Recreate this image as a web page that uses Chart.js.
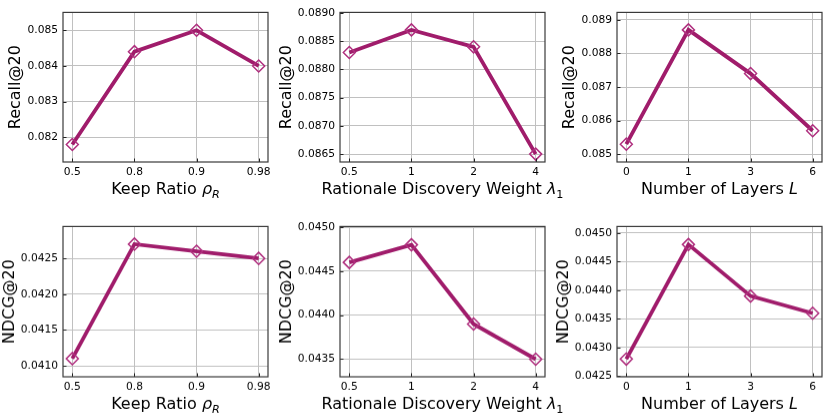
<!DOCTYPE html>
<html>
<head>
<meta charset="utf-8">
<script src="https://cdn.jsdelivr.net/npm/chart.js@4.4.1/dist/chart.umd.min.js"></script>
<style>
  html, body { margin: 0; padding: 0; background: #fff; width: 830px; height: 419px; overflow: hidden; }
  canvas { position: absolute; }
</style>
</head>
<body>
<script>
// x categories
const rhoLabels = ['0.5', '0.8', '0.9', '0.98'];
const lambdaLabels = ['0.5', '1', '2', '4'];
const layerLabels = ['0', '1', '3', '6'];

// series values
const recallRho = [0.0818, 0.0844, 0.0850, 0.0840];
const recallLambda = [0.0883, 0.0887, 0.0884, 0.0865];
const recallLayers = [0.0853, 0.0887, 0.0874, 0.0857];
const ndcgRho = [0.0411, 0.0427, 0.0426, 0.0425];
const ndcgLambda = [0.0446, 0.0448, 0.0439, 0.0435];
const ndcgLayers = [0.0428, 0.0448, 0.0439, 0.0436];

// y tick labels
const recallRhoTicks = [0.082, 0.083, 0.084, 0.085];
const recallLambdaTicks = [0.0865, 0.0870, 0.0875, 0.0880, 0.0885, 0.0890];
const recallLayersTicks = [0.085, 0.086, 0.087, 0.088, 0.089];
const ndcgRhoTicks = [0.0410, 0.0415, 0.0420, 0.0425];
const ndcgLambdaTicks = [0.0435, 0.0440, 0.0445, 0.0450];
const ndcgLayersTicks = [0.0425, 0.0430, 0.0435, 0.0440, 0.0445, 0.0450];

// y axis limits
const recallRhoRange = [0.08131, 0.0855];
const recallLambdaRange = [0.08636, 0.08901];
const recallLayersRange = [0.08477, 0.08922];
const ndcgRhoRange = [0.040846, 0.042946];
const ndcgLambdaRange = [0.04330, 0.045008];
const ndcgLayersRange = [0.04249, 0.045115];

const rhoTitle = [['Keep Ratio ', ''], ['ρ', 'i'], ['R', 'is']];
const lambdaTitle = [['Rationale Discovery Weight ', ''], ['λ', 'i'], ['1', 's']];
const layerTitle = [['Number of Layers ', ''], ['L', 'i']];

const panels = [
  { left: 62.7, top: 8.5, cats: rhoLabels, vals: recallRho, ticks: recallRhoTicks, range: recallRhoRange, dec: 3, yTitle: 'Recall@20', xTitle: rhoTitle },
  { left: 340, top: 8.5, cats: lambdaLabels, vals: recallLambda, ticks: recallLambdaTicks, range: recallLambdaRange, dec: 4, yTitle: 'Recall@20', xTitle: lambdaTitle },
  { left: 616.7, top: 8.5, cats: layerLabels, vals: recallLayers, ticks: recallLayersTicks, range: recallLayersRange, dec: 3, yTitle: 'Recall@20', xTitle: layerTitle },
  { left: 62.7, top: 223.4, cats: rhoLabels, vals: ndcgRho, ticks: ndcgRhoTicks, range: ndcgRhoRange, dec: 4, yTitle: 'NDCG@20', xTitle: rhoTitle },
  { left: 340, top: 223.4, cats: lambdaLabels, vals: ndcgLambda, ticks: ndcgLambdaTicks, range: ndcgLambdaRange, dec: 4, yTitle: 'NDCG@20', xTitle: lambdaTitle },
  { left: 616.7, top: 223.4, cats: layerLabels, vals: ndcgLayers, ticks: ndcgLayersTicks, range: ndcgLayersRange, dec: 4, yTitle: 'NDCG@20', xTitle: layerTitle }
];

const PAD_L = 62, PAD_T = 8, PAD_R = 30, PAD_B = 50;
const AREA_W = 205, AREA_H = 153.3;
const FONT = '"DejaVu Sans", sans-serif';
const LINE = '#a01c6b';
const MARK = '#b0307f';

// box, inward ticks and axis titles in the matplotlib manner
const frame = {
  id: 'frame',
  afterDraw(chart, args, opts) {
    const { ctx, chartArea: a, scales } = chart;
    ctx.save();
    ctx.strokeStyle = '#222';
    ctx.lineWidth = 1;
    ctx.beginPath();
    scales.x.ticks.forEach(t => {
      const x = Math.round(scales.x.getPixelForValue(t.value)) + 0.5;
      ctx.moveTo(x, a.bottom); ctx.lineTo(x, a.bottom - 3.5);
    });
    scales.y.ticks.forEach(t => {
      const y = Math.round(scales.y.getPixelForValue(t.value)) + 0.5;
      ctx.moveTo(a.left, y); ctx.lineTo(a.left + 3.5, y);
    });
    ctx.stroke();

    ctx.strokeStyle = '#3a3a3a';
    ctx.lineWidth = 1.2;
    ctx.strokeRect(a.left, a.top, a.right - a.left, a.bottom - a.top);

    // y title
    ctx.font = '10.67px ' + FONT;
    let tw = 0;
    scales.y.ticks.forEach(t => { tw = Math.max(tw, ctx.measureText(t.label).width); });
    ctx.fillStyle = '#000';
    ctx.font = '16px ' + FONT;
    ctx.textAlign = 'center';
    ctx.textBaseline = 'alphabetic';
    ctx.translate(a.left - 5.4 - tw - 6.8, (a.top + a.bottom) / 2);
    ctx.rotate(-Math.PI / 2);
    ctx.fillText(opts.yTitle, 0, 0);
    ctx.setTransform(1, 0, 0, 1, 0, 0);
    ctx.restore();

    // x title with math parts
    ctx.save();
    ctx.fillStyle = '#000';
    ctx.textAlign = 'left';
    ctx.textBaseline = 'alphabetic';
    const fontOf = s => (s.includes('i') ? 'oblique ' : '') + (s.includes('s') ? '11.2px ' : '16px ') + FONT;
    let total = 0;
    opts.xTitle.forEach(([t, s]) => { ctx.font = fontOf(s); total += ctx.measureText(t).width; });
    let x = (a.left + a.right) / 2 - total / 2;
    const base = a.bottom + 32;
    opts.xTitle.forEach(([t, s]) => {
      ctx.font = fontOf(s);
      ctx.fillText(t, x, base + (s.includes('s') ? 3.5 : 0));
      x += ctx.measureText(t).width;
    });
    ctx.restore();
  }
};

panels.forEach(p => {
  const c = document.createElement('canvas');
  const w = AREA_W + PAD_L + PAD_R;
  const h = AREA_H + PAD_T + PAD_B;
  c.width = w; c.height = h;
  c.style.width = w + 'px'; c.style.height = h + 'px';
  c.style.left = (p.left - PAD_L) + 'px';
  c.style.top = (p.top - PAD_T) + 'px';
  document.body.appendChild(c);

  new Chart(c, {
    type: 'line',
    data: {
      datasets: [{
        data: p.vals.map((v, i) => ({ x: i, y: v })),
        borderColor: LINE,
        borderWidth: 3.8,
        pointStyle: 'rectRot',
        pointRadius: 6,
        pointBorderWidth: 1.5,
        pointBorderColor: MARK,
        pointBackgroundColor: 'rgba(255,255,255,0)',
        tension: 0
      }]
    },
    options: {
      responsive: false,
      animation: false,
      events: [],
      layout: { padding: { top: PAD_T, right: PAD_R, left: 0, bottom: 0 } },
      plugins: {
        legend: { display: false },
        tooltip: { enabled: false },
        frame: { yTitle: p.yTitle, xTitle: p.xTitle }
      },
      scales: {
        x: {
          type: 'linear',
          min: -0.15,
          max: 3.15,
          afterFit: s => { s.height = PAD_B; },
          afterBuildTicks: s => { s.ticks = p.cats.map((_, i) => ({ value: i })); },
          grid: { color: '#c0c0c0', lineWidth: 1, drawTicks: false },
          border: { display: false },
          ticks: {
            padding: 4,
            color: '#000',
            font: { family: FONT, size: 10.67 },
            maxRotation: 0,
            callback: v => p.cats[v]
          }
        },
        y: {
          min: p.range[0],
          max: p.range[1],
          afterFit: s => { s.width = PAD_L; },
          afterBuildTicks: s => { s.ticks = p.ticks.map(v => ({ value: v })); },
          grid: { color: '#c0c0c0', lineWidth: 1, drawTicks: false },
          border: { display: false },
          ticks: {
            padding: 5,
            color: '#000',
            font: { family: FONT, size: 10.67 },
            callback: v => v.toFixed(p.dec)
          }
        }
      }
    },
    plugins: [frame]
  });
});
</script>
</body>
</html>
